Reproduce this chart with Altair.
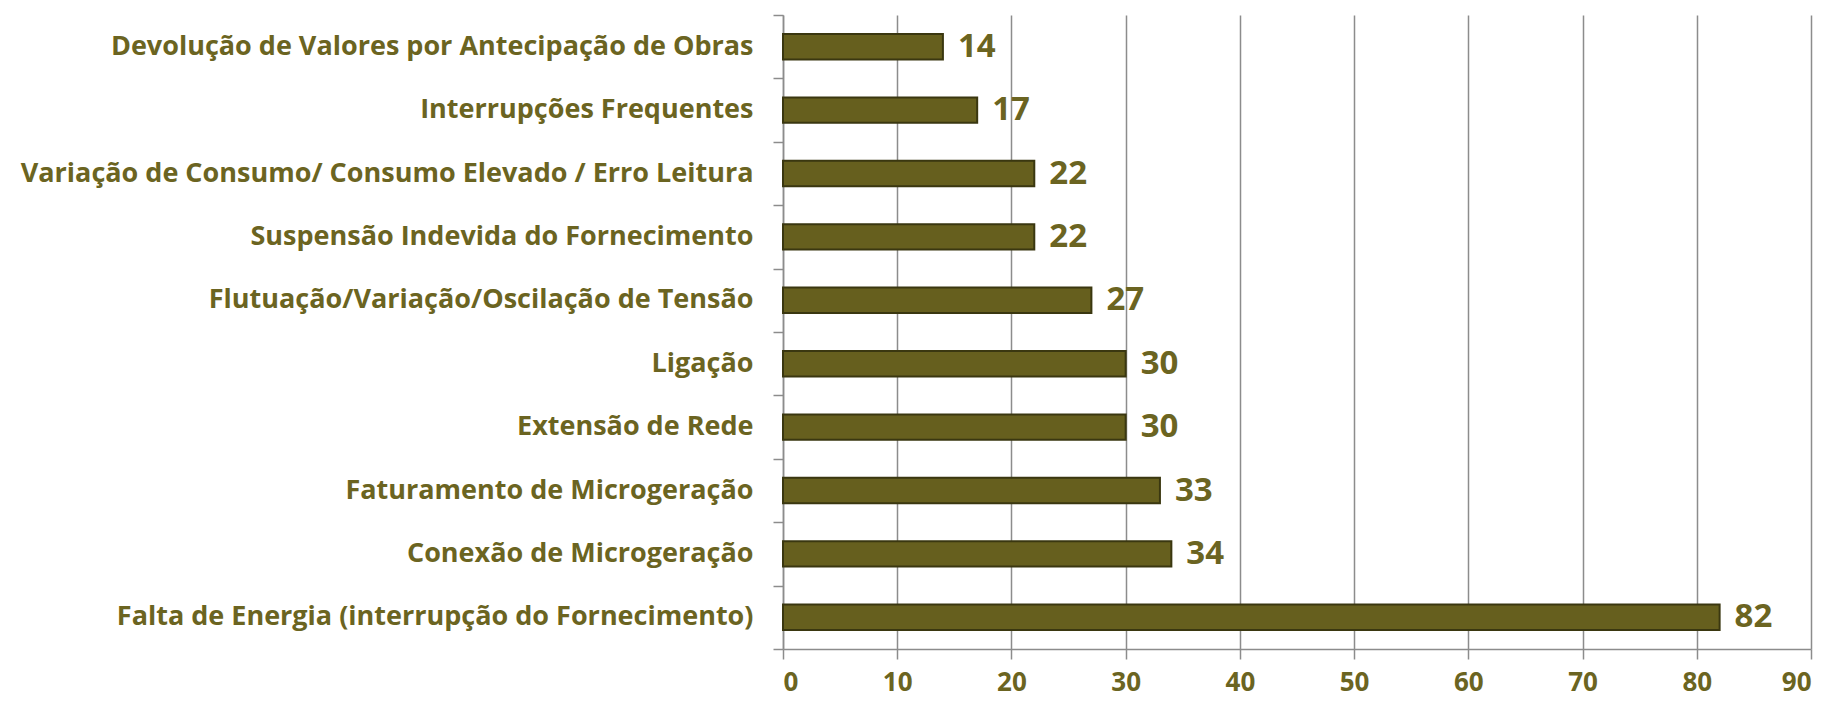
import altair as alt
import pandas as pd

categories = [
    "Devolução de Valores por Antecipação de Obras",
    "Interrupções Frequentes",
    "Variação de Consumo/ Consumo Elevado / Erro Leitura",
    "Suspensão Indevida do Fornecimento",
    "Flutuação/Variação/Oscilação de Tensão",
    "Ligação",
    "Extensão de Rede",
    "Faturamento de Microgeração",
    "Conexão de Microgeração",
    "Falta de Energia (interrupção do Fornecimento)",
]
values = [14, 17, 22, 22, 27, 30, 30, 33, 34, 82]
x_ticks = [0, 10, 20, 30, 40, 50, 60, 70, 80, 90]

df = pd.DataFrame({"cat": categories, "val": values, "idx": list(range(len(categories)))})

TEXT = "#6B6421"
FONT = "Open Sans"
GRID = "#8C8C8C"

y_enc = alt.Y(
    "cat:N",
    sort=categories,
    scale=alt.Scale(paddingInner=0.6, paddingOuter=0.3),
    axis=alt.Axis(
        title=None, ticks=False, domain=True, domainColor=GRID, domainWidth=1.5,
        labelFont=FONT, labelFontWeight="bold", labelFontSize=27, labelColor=TEXT,
        labelPadding=30, labelLimit=900, grid=False,
    ),
)
x_enc = alt.X(
    "val:Q",
    scale=alt.Scale(domain=[0, 90], nice=False),
    axis=alt.Axis(
        title=None, values=x_ticks, grid=True, gridColor=GRID, gridWidth=1.5,
        domainColor=GRID, domainWidth=1.5, tickColor=GRID, tickWidth=1.5, tickSize=10,
        labelFont=FONT, labelFontWeight="bold", labelFontSize=26, labelColor=TEXT,
        labelPadding=10,
    ),
)

bars = alt.Chart(df).mark_bar(color="#665F1E", stroke="#3A3710", strokeWidth=2).encode(x=x_enc, y=y_enc)
texts = alt.Chart(df).mark_text(
    align="left", baseline="middle", dx=15, font=FONT, fontWeight="bold", fontSize=33, color=TEXT
).encode(x="val:Q", y=alt.Y("cat:N", sort=categories), text="val:Q")

ticks = alt.Chart(df).mark_point(opacity=0).encode(
    x=alt.value(0),
    y=alt.Y(
        "idx:Q",
        scale=alt.Scale(domain=[0, 10], reverse=True, nice=False),
        axis=alt.Axis(
            orient="left", title=None, labels=False, grid=False, domain=False,
            values=list(range(11)), tickColor=GRID, tickWidth=1.5, tickSize=10,
        ),
    ),
)

main = alt.layer(bars, texts)
chart = alt.layer(main, ticks).resolve_scale(y="independent").properties(
    width=1028, height=634,
    background="white",
    autosize=alt.AutoSizeParams(type="none"),
    padding={"left": 775, "top": 7, "right": 10, "bottom": 50},
).configure_view(stroke="transparent", strokeWidth=0)

chart.save("out.html", embed_options={"renderer": "svg", "actions": False})
